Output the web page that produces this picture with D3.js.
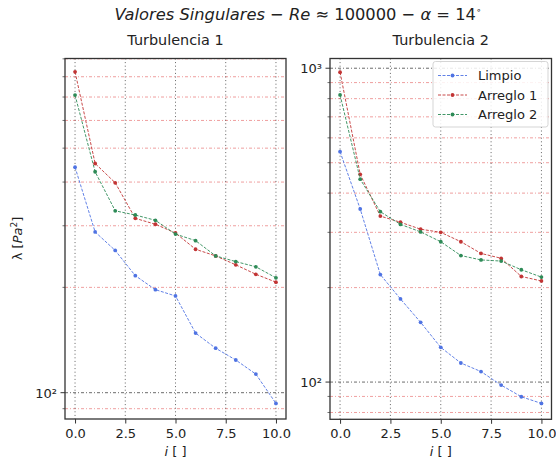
<!DOCTYPE html>
<html lang="en">
<head>
  <meta charset="utf-8">
  <title>Valores Singulares</title>
  <style>
    body { margin: 0; background: #fff; }
    text { font-family: "DejaVu Sans", sans-serif; fill: #222; }
  </style>
</head>
<body>
  <script src="https://cdn.jsdelivr.net/npm/d3@7"></script>
  <script>
    var width = 556;
    var height = 463;

    // data
    var indices = [0, 1, 2, 3, 4, 5, 6, 7, 8, 9, 10];
    var xTicks = [0, 2.5, 5, 7.5, 10];
    var seriesNames = ["Limpio", "Arreglo 1", "Arreglo 2"];
    var seriesColors = ["#4f73e3", "#c23434", "#2e8b57"];
    var t1Limpio = [441, 288, 255, 216, 197, 189, 148, 134, 124, 113, 93.2];
    var t1Arreglo1 = [826, 452, 398, 315, 303, 286, 257, 246, 232, 218, 207];
    var t1Arreglo2 = [709, 428, 331, 322, 311, 284, 272, 246, 237, 229, 213];
    var t2Limpio = [542, 356, 220, 184, 155, 129, 115, 108, 97.8, 89.8, 85.5];
    var t2Arreglo1 = [971, 459, 338, 323, 307, 300, 280, 257, 248, 217, 210];
    var t2Arreglo2 = [822, 443, 349, 318, 301, 280, 253, 245, 243, 228, 216];

    var panels = [
      { title: "Turbulencia 1", series: [t1Limpio, t1Arreglo1, t1Arreglo2],
        left: 65, right: 286, top: 58.5, bottom: 419, yDomain: [84.1, 902], legend: false },
      { title: "Turbulencia 2", series: [t2Limpio, t2Arreglo1, t2Arreglo2],
        left: 330, right: 551.5, top: 58.5, bottom: 419.3, yDomain: [76.1, 1074], legend: true }
    ];

    var svg = d3.select("body").append("svg")
      .attr("width", width)
      .attr("height", height);

    // suptitle (mathtext style)
    var sup = svg.append("text")
      .attr("x", 298)
      .attr("y", 20)
      .attr("text-anchor", "middle")
      .style("font-size", "16.3px");
    sup.append("tspan").style("font-style", "italic").text("Valores Singulares");
    sup.append("tspan").text(" \u2212 ");
    sup.append("tspan").style("font-style", "italic").text("Re");
    sup.append("tspan").text(" \u2248 100000 \u2212 ");
    sup.append("tspan").style("font-style", "italic").text("\u03b1");
    sup.append("tspan").text(" = 14");
    sup.append("tspan").attr("dy", -7).style("font-size", "9px").text("\u2218");

    // y label
    var yl = svg.append("text")
      .attr("transform", "translate(22,238.5) rotate(-90)")
      .attr("text-anchor", "middle")
      .style("font-size", "13px");
    yl.append("tspan").text("\u03bb [");
    yl.append("tspan").style("font-style", "italic").text("Pa");
    yl.append("tspan").attr("dy", -5).style("font-size", "9px").text("2");
    yl.append("tspan").attr("dy", 5).text("]");

    var superDigits = { "2": "\u00b2", "3": "\u00b3" };

    panels.forEach(function(p) {
      var g = svg.append("g");
      var xScale = d3.scaleLinear()
        .domain([-0.5, 10.5])
        .range([p.left, p.right]);
      var yScale = d3.scaleLog()
        .domain(p.yDomain)
        .range([p.bottom, p.top]);

      var yAll = yScale.ticks();
      var isMajor = function(v) {
        return Math.abs(Math.log10(v) - Math.round(Math.log10(v))) < 1e-9;
      };
      var yMinor = yAll.filter(function(v) { return !isMajor(v); });
      var yMajor = yAll.filter(isMajor);

      // minor horizontal grid
      g.selectAll(".minor-grid")
        .data(yMinor)
        .enter()
        .append("line")
        .attr("x1", p.left).attr("x2", p.right)
        .attr("y1", function(d) { return yScale(d); })
        .attr("y2", function(d) { return yScale(d); })
        .attr("stroke", "#e35b5b")
        .attr("stroke-opacity", 0.65)
        .attr("stroke-width", 0.9)
        .attr("stroke-dasharray", "3,2,1,2");

      // major horizontal grid
      g.selectAll(".major-grid")
        .data(yMajor)
        .enter()
        .append("line")
        .attr("x1", p.left).attr("x2", p.right)
        .attr("y1", function(d) { return yScale(d); })
        .attr("y2", function(d) { return yScale(d); })
        .attr("stroke", "#222")
        .attr("stroke-opacity", 0.75)
        .attr("stroke-width", 0.9)
        .attr("stroke-dasharray", "3,2,1,2");

      // vertical grid
      g.selectAll(".x-grid")
        .data(xTicks)
        .enter()
        .append("line")
        .attr("x1", function(d) { return xScale(d); })
        .attr("x2", function(d) { return xScale(d); })
        .attr("y1", p.top).attr("y2", p.bottom)
        .attr("stroke", "#222")
        .attr("stroke-opacity", 0.7)
        .attr("stroke-width", 1)
        .attr("stroke-dasharray", "1,2.6");

      // series
      var line = d3.line()
        .x(function(d, i) { return xScale(indices[i]); })
        .y(function(d) { return yScale(d); });

      p.series.forEach(function(vals, k) {
        g.append("path")
          .datum(vals)
          .attr("d", line)
          .attr("fill", "none")
          .attr("stroke", seriesColors[k])
          .attr("stroke-width", 0.9)
          .attr("stroke-dasharray", "3,1.5");
        g.selectAll(".pt" + k)
          .data(vals)
          .enter()
          .append("circle")
          .attr("cx", function(d, i) { return xScale(indices[i]); })
          .attr("cy", function(d) { return yScale(d); })
          .attr("r", 1.9)
          .attr("fill", seriesColors[k]);
      });

      // x axis
      var xAxis = d3.axisBottom(xScale)
        .tickValues(xTicks)
        .tickFormat(d3.format(".1f"))
        .tickSize(4.5)
        .tickPadding(5);
      var xg = g.append("g")
        .attr("transform", "translate(0," + p.bottom + ")")
        .call(xAxis);
      xg.select(".domain").remove();
      xg.selectAll("line").attr("stroke", "#333").attr("stroke-width", 1);
      xg.selectAll("text").style("font-size", "13px").style("font-family", "DejaVu Sans").attr("fill", "#222");

      // y ticks: major with labels, minor short
      var yg = g.append("g");
      yg.selectAll(".ytm")
        .data(yAll)
        .enter()
        .append("line")
        .attr("x1", function(d) { return p.left - (isMajor(d) ? 4.5 : 2.5); })
        .attr("x2", p.left)
        .attr("y1", function(d) { return yScale(d); })
        .attr("y2", function(d) { return yScale(d); })
        .attr("stroke", "#333")
        .attr("stroke-width", function(d) { return isMajor(d) ? 1 : 0.7; });
      yg.selectAll(".ytl")
        .data(yMajor)
        .enter()
        .append("text")
        .attr("x", p.left - 8)
        .attr("y", function(d) { return yScale(d) + 5; })
        .attr("text-anchor", "end")
        .style("font-size", "13px")
        .text(function(d) { return "10" + superDigits[String(Math.round(Math.log10(d)))]; });

      // frame
      g.append("rect")
        .attr("x", p.left).attr("y", p.top)
        .attr("width", p.right - p.left)
        .attr("height", p.bottom - p.top)
        .attr("fill", "none")
        .attr("stroke", "#333")
        .attr("stroke-width", 1.3);

      // titles
      g.append("text")
        .attr("x", (p.left + p.right) / 2)
        .attr("y", 45)
        .attr("text-anchor", "middle")
        .style("font-size", "14.4px")
        .text(p.title);

      var xl = g.append("text")
        .attr("x", (p.left + p.right) / 2)
        .attr("y", 456)
        .attr("text-anchor", "middle")
        .style("font-size", "13px");
      xl.append("tspan").style("font-style", "italic").text("i");
      xl.append("tspan").text(" [ ]");

      if (p.legend) {
        var lg = g.append("g").attr("transform", "translate(433,61.5)");
        lg.append("rect")
          .attr("width", 115).attr("height", 65.5)
          .attr("rx", 2.5)
          .attr("fill", "#fff").attr("fill-opacity", 0.85)
          .attr("stroke", "#d0d0d0").attr("stroke-width", 0.9);
        seriesNames.forEach(function(name, k) {
          var yy = 14 + k * 19.5;
          lg.append("line")
            .attr("x1", 5).attr("x2", 34)
            .attr("y1", yy).attr("y2", yy)
            .attr("stroke", seriesColors[k])
            .attr("stroke-width", 0.9)
            .attr("stroke-dasharray", "3,1.5");
          lg.append("circle")
            .attr("cx", 19.5).attr("cy", yy).attr("r", 1.9)
            .attr("fill", seriesColors[k]);
          lg.append("text")
            .attr("x", 45).attr("y", yy + 4.5)
            .style("font-size", "13px")
            .text(name);
        });
      }
    });
  </script>
</body>
</html>
